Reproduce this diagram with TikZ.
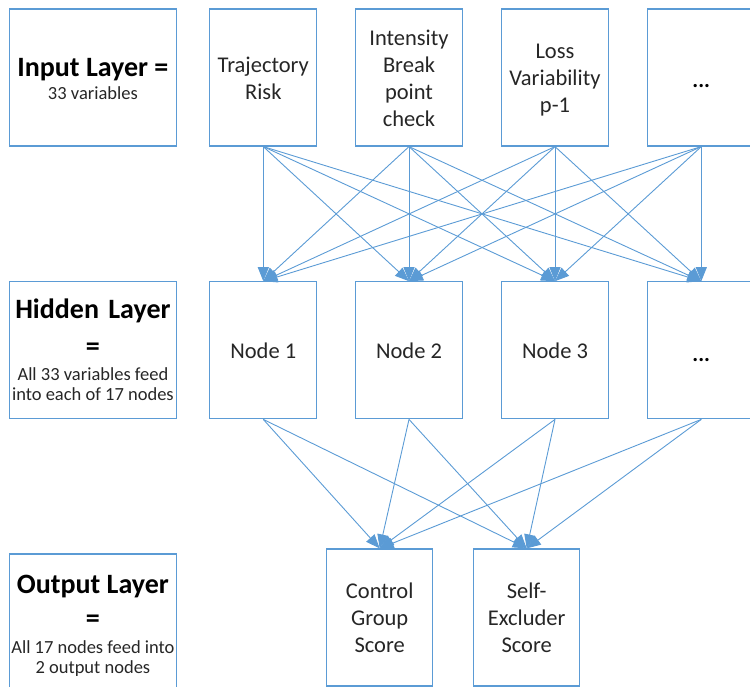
\documentclass[tikz,border=0pt]{standalone}
\usepackage{fontspec}
\setmainfont{Carlito}
\usetikzlibrary{arrows.meta}
\definecolor{linkblue}{RGB}{91,155,213}
\definecolor{txt}{RGB}{38,38,38}
\begin{document}
\begin{tikzpicture}[x=1pt,y=-1pt,
  box/.style={draw=linkblue, line width=1.2pt, minimum width=107pt, minimum height=137pt,
    inner sep=0pt, font=\fontsize{22.5}{27}\selectfont, text=txt, align=center},
  boxtext/.style={inner sep=0pt, font=\fontsize{22.5}{27}\selectfont, text=txt, align=center},
  lab/.style={draw=linkblue, line width=1.2pt, minimum width=167.5pt, minimum height=137pt, inner sep=0pt},
  head/.style={anchor=base, inner sep=0pt, font=\fontsize{28}{30}\selectfont\bfseries, text=black},
  note/.style={anchor=base, inner sep=0pt, font=\fontsize{18.5}{21}\selectfont, text=txt},
  dots/.style={anchor=base, inner sep=0pt, font=\fontsize{22}{26}\selectfont\bfseries, text=black},
  link/.style={draw=linkblue, line width=0.9pt, -{Triangle[length=14pt,width=11pt]}}
]
\useasboundingbox (0,0) rectangle (750,687);
\clip (0,0) rectangle (750,687);

% layer captions
\node[lab] (labin) at (92.9,77.6) {};
\node[head] (labinA) at (92.9,77) {Input Layer =};
\node[note] (labinB) at (92.9,100) {33 variables};

\node[lab] (labhid) at (92.9,350.3) {};
\node[head] (labhidA) at (92.9,319) {Hidden\hspace{3pt} Layer};
\node[head] (labhidB) at (92.9,355.5) {=};
\node[note] (labhidC) at (92.9,380) {All 33 variables feed};
\node[note] (labhidD) at (92.9,400) {into each of 17 nodes};

\node[lab] (labout) at (92.9,622.5) {};
\node[head] (laboutA) at (92.9,593) {Output Layer};
\node[head] (laboutB) at (92.9,627) {=};
\node[note] (laboutC) at (92.9,653.3) {All 17 nodes feed into};
\node[note] (laboutD) at (92.9,673.3) {2 output nodes};

% input layer
\node[box] (in1) at (263.3,77.5) {};
\node[box] (in2) at (409.0,77.5) {};
\node[box] (in3) at (555.0,77.5) {};
\node[box] (in4) at (701.3,77.5) {};
\node[boxtext] (in1t) at (263.3,78.5) {Trajectory\\Risk};
\node[boxtext] (in2t) at (409.0,78.5) {Intensity\\Break\\point\\check};
\node[boxtext] (in3t) at (555.0,80.0) {Loss\\Variability\\p-1};
\node[dots] (in4d) at (701.3,88) {...};

% hidden layer
\node[box] (h1) at (263.3,350.3) {Node 1};
\node[box] (h2) at (409.0,350.3) {Node 2};
\node[box] (h3) at (555.0,350.3) {Node 3};
\node[box] (h4) at (701.3,350.3) {};
\node[dots] (h4d) at (701.3,361) {...};

% output layer
\node[box, minimum width=106pt] (o1) at (379.7,617.5) {Control\\Group\\Score};
\node[box, minimum width=106pt] (o2) at (526.7,617.5) {Self-\\Excluder\\Score};

% every input feeds every hidden node
\foreach \i in {1,...,4}
  \foreach \j in {1,...,4}
    \draw[link] (in\i.south) -- (h\j.north);

% every hidden node feeds both outputs
\foreach \i in {1,...,4}
  \foreach \j in {1,2}
    \draw[link] (h\i.south) -- (o\j.north);
\end{tikzpicture}
\end{document}
